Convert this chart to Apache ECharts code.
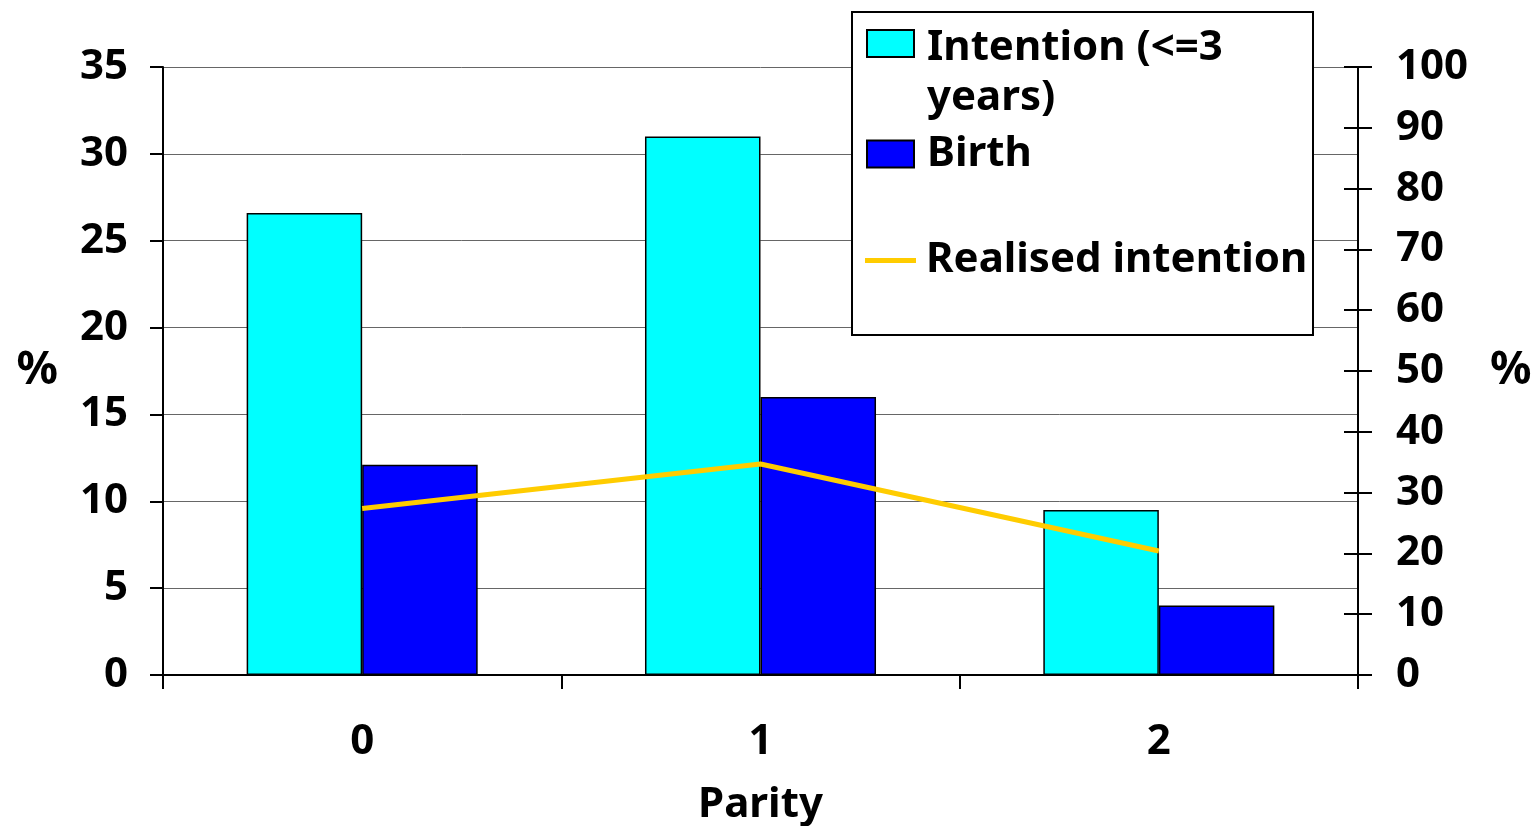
<!DOCTYPE html>
<html>
<head>
<meta charset="utf-8">
<script src="https://cdn.jsdelivr.net/npm/echarts@6/dist/echarts.min.js"></script>
<style>html,body{margin:0;padding:0;background:#fff}#c{width:1539px;height:826px}</style>
</head>
<body>
<div id="c"></div>
<script>
var categories = ['0', '1', '2'];
var intention = [26.6, 31.0, 9.5];
var birth = [12.1, 16.0, 4.0];
var realised = [27.4, 34.7, 20.4];
var leftTicks = {min: 0, max: 35, interval: 5};
var rightTicks = {min: 0, max: 100, interval: 10};

var FONT = 'Noto Sans';
var FS = 42;
var chart = echarts.init(document.getElementById('c'));
var txt = {fontFamily: FONT, fontWeight: 'bold', fontSize: FS, color: '#000'};

chart.setOption({
  animation: false,
  backgroundColor: '#fff',
  grid: {left: 163, right: 181, top: 67, bottom: 151, containLabel: false, outerBoundsMode: 'none'},
  graphic: [{
    type: 'rect', z: 3, silent: true,
    shape: {x: 852, y: 12, width: 461, height: 323},
    style: {fill: '#fff', stroke: '#000', lineWidth: 2}
  }],
  legend: [
    {
      data: ['Intention (<=3 years)'], orient: 'vertical', left: 866, top: -36.5, padding: 0,
      itemWidth: 47, itemHeight: 27, z: 5, icon: 'rect',
      formatter: function (n) { return '{e| }\n{a|Intention (<=3}\n{a|years)}'; },
      textStyle: Object.assign({}, txt, {
        lineHeight: 50, padding: [0, 0, 0, 8],
        rich: {
          e: {fontFamily: FONT, fontSize: FS, lineHeight: 60},
          a: {fontFamily: FONT, fontWeight: 'bold', fontSize: FS, lineHeight: 50, color: '#000'}
        }
      })
    },
    {
      data: ['Birth'], orient: 'vertical', left: 866, top: 133, padding: 0,
      itemWidth: 47, itemHeight: 27, z: 5, icon: 'rect',
      textStyle: Object.assign({}, txt, {lineHeight: 27, padding: [0, 0, 0, 8]})
    },
    {
      data: ['Realised intention'], orient: 'vertical', left: 865, top: 239.5, padding: 0,
      itemWidth: 51, itemHeight: 5, z: 5, icon: 'rect',
      textStyle: Object.assign({}, txt, {lineHeight: 27, padding: [0, 0, 0, 5]})
    }
  ],
  xAxis: {
    type: 'category', data: categories, boundaryGap: true,
    name: 'Parity', nameLocation: 'middle', nameGap: 109,
    nameTextStyle: txt,
    axisLine: {show: true, lineStyle: {color: '#000', width: 2}},
    axisTick: {show: true, inside: false, length: 14, alignWithLabel: false, lineStyle: {color: '#000', width: 2}},
    axisLabel: Object.assign({}, txt, {margin: 46}),
    splitLine: {show: false}
  },
  yAxis: [
    {
      type: 'value', position: 'left', min: leftTicks.min, max: leftTicks.max, interval: leftTicks.interval,
      name: '%', nameLocation: 'middle', nameRotate: 0, nameGap: 105, nameTextStyle: Object.assign({}, txt, {fontSize: 46, padding: [12, 0, 0, 0]}),
      axisLine: {show: true, lineStyle: {color: '#000', width: 2}},
      axisTick: {show: true, inside: false, length: 13, lineStyle: {color: '#000', width: 2}},
      axisLabel: Object.assign({}, txt, {margin: 35, padding: [6, 0, 0, 0]}),
      splitLine: {show: true, lineStyle: {color: '#666', width: 1}}
    },
    {
      type: 'value', position: 'right', min: rightTicks.min, max: rightTicks.max, interval: rightTicks.interval,
      name: '%', nameLocation: 'middle', nameRotate: 0, nameGap: 132, nameTextStyle: Object.assign({}, txt, {fontSize: 46, padding: [12, 0, 0, 0]}),
      axisLine: {show: true, lineStyle: {color: '#000', width: 2}},
      axisTick: {show: true, inside: false, length: 14, lineStyle: {color: '#000', width: 2}},
      axisLabel: Object.assign({}, txt, {margin: 38, padding: [6, 0, 0, 0]}),
      splitLine: {show: false}
    },
    {
      type: 'value', position: 'right', min: rightTicks.min, max: rightTicks.max, interval: rightTicks.interval,
      axisLine: {show: false},
      axisTick: {show: true, inside: true, length: 14, lineStyle: {color: '#000', width: 2}},
      axisLabel: {show: false},
      splitLine: {show: false}
    }
  ],
  series: [
    {
      name: 'Intention (<=3 years)', type: 'bar', data: intention, yAxisIndex: 0,
      barGap: '0%', barCategoryGap: '42%',
      itemStyle: {color: '#00FFFF', borderColor: '#000', borderWidth: 1.5}
    },
    {
      name: 'Birth', type: 'bar', data: birth, yAxisIndex: 0,
      barGap: '0%', barCategoryGap: '42%',
      itemStyle: {color: '#0000FF', borderColor: '#000', borderWidth: 1.5}
    },
    {
      name: 'Realised intention', type: 'line', data: realised, yAxisIndex: 1,
      symbol: 'none', z: 3,
      lineStyle: {color: '#FFCC00', width: 5},
      itemStyle: {color: '#FFCC00'}
    }
  ]
});
</script>
</body>
</html>
